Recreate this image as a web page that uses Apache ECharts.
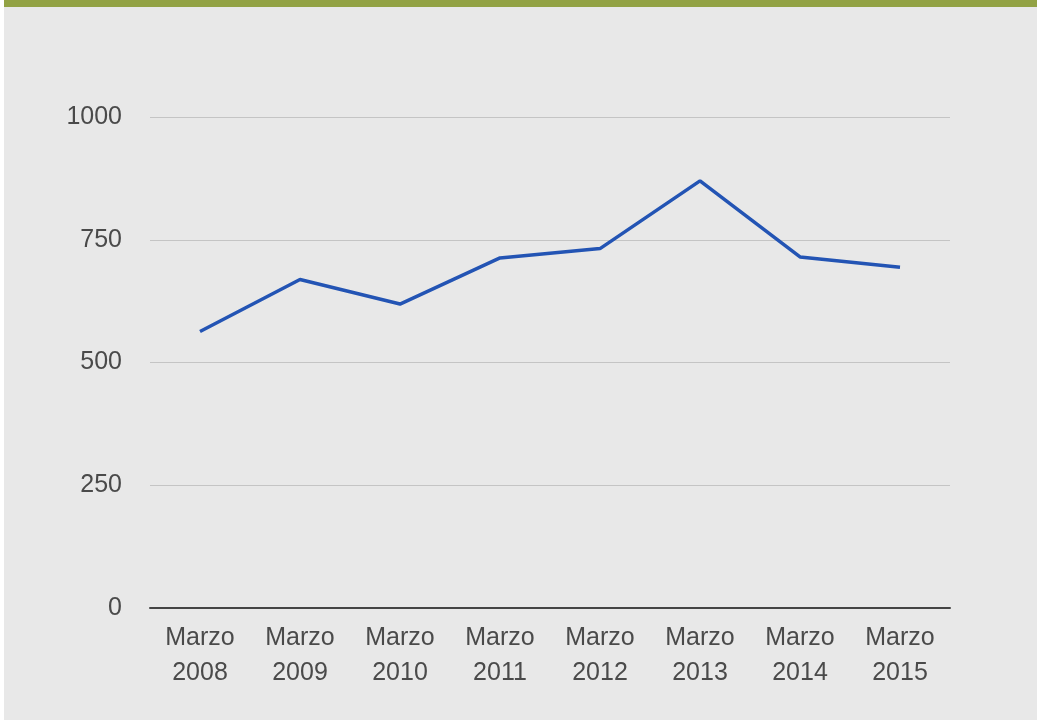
<!DOCTYPE html>
<html>
<head>
<meta charset="utf-8">
<script src="https://cdn.jsdelivr.net/npm/echarts@6/dist/echarts.min.js"></script>
<style>
html,body{margin:0;padding:0;background:#ffffff;}
#wrap{position:absolute;left:4px;top:0;width:1033px;height:720px;background:#e8e8e8;}
#bar{position:absolute;left:0;top:0;width:1033px;height:7px;background:#92a244;}
#chart{position:absolute;left:0;top:0;width:1041px;height:720px;}
</style>
</head>
<body>
<div id="wrap"><div id="bar"></div></div>
<div id="chart"></div>
<script>
const categories = ['Marzo\n2008','Marzo\n2009','Marzo\n2010','Marzo\n2011','Marzo\n2012','Marzo\n2013','Marzo\n2014','Marzo\n2015'];
const values = [563, 669, 619, 713, 732, 870, 715, 694];
const yTicks = [0, 250, 500, 750, 1000];

const chart = echarts.init(document.getElementById('chart'), null, {renderer:'canvas'});
chart.setOption({
  backgroundColor: 'transparent',
  animation: false,
  grid: {left:150, right:91, top:117, bottom:112, containLabel:false},
  xAxis: {
    type:'category',
    data: categories,
    boundaryGap: true,
    axisLine: {show:true, lineStyle:{color:'#444', width:2}},
    axisTick: {show:false},
    axisLabel: {color:'#4a4a4a', fontSize:25, fontFamily:'Liberation Sans, Arial, sans-serif', lineHeight:35, margin:13, interval:0}
  },
  yAxis: {
    type:'value',
    min: yTicks[0],
    max: yTicks[yTicks.length-1],
    interval: 250,
    axisLine: {show:false},
    axisTick: {show:false},
    splitLine: {lineStyle:{color:'#c4c4c4', width:1}},
    axisLabel: {color:'#4a4a4a', fontSize:25, fontFamily:'Liberation Sans, Arial, sans-serif', margin:28, formatter: v => String(v)}
  },
  series: [{
    type:'line',
    data: values,
    symbol:'none',
    lineStyle:{color:'#2354b4', width:3.5},
    itemStyle:{color:'#2354b4'}
  }]
});
</script>
</body>
</html>
